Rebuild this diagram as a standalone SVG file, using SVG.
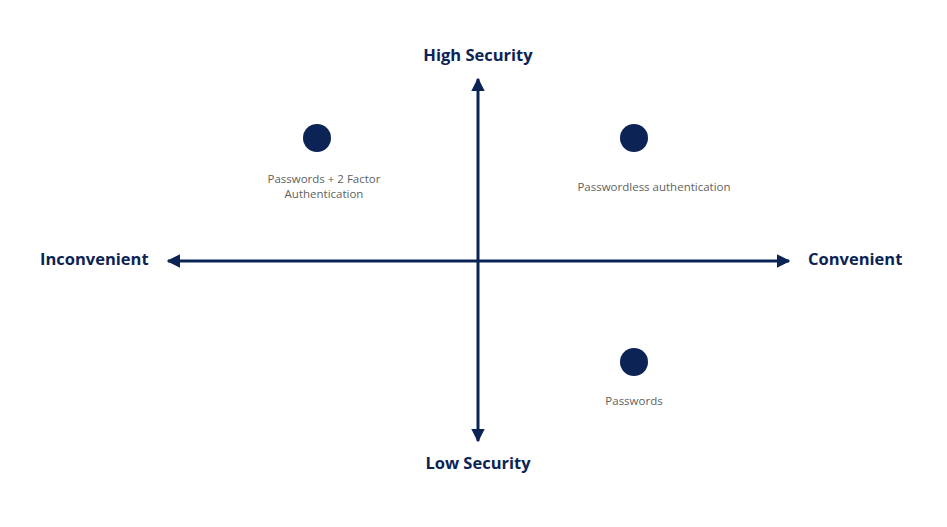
<svg xmlns="http://www.w3.org/2000/svg" width="947" height="527" viewBox="0 0 947 527">
  <style>
    .axis { stroke: #0c2355; stroke-width: 3; fill: none; }
    .axis-label { font-family: "Open Sans", "Noto Sans", sans-serif; font-weight: 700; font-size: 16.5px; fill: #0c2355; }
    .point { fill: #0c2355; }
    .point-label { font-family: "Open Sans", "Noto Sans", sans-serif; font-size: 11.5px; fill: #5f5f5f; text-anchor: middle; }
  </style>
  <defs>
    <marker id="arrow" viewBox="0 0 10 10" refX="9" refY="5" markerWidth="4.5" markerHeight="4.5" orient="auto-start-reverse" markerUnits="strokeWidth">
      <path d="M0,0 L10,5 L0,10 Z" fill="#0c2355"/>
    </marker>
  </defs>
  <rect width="947" height="527" fill="#ffffff"/>

  <g id="connectors">
    <line class="axis" x1="478" y1="441" x2="478" y2="79" marker-end="url(#arrow)" marker-start="url(#arrow)"/>
    <line class="axis" x1="168" y1="261" x2="789" y2="261" marker-end="url(#arrow)" marker-start="url(#arrow)"/>
  </g>

  <g id="high-security">
    <text class="axis-label" x="478" y="61" text-anchor="middle">High Security</text>
  </g>
  <g id="low-security">
    <text class="axis-label" x="478" y="469" text-anchor="middle">Low Security</text>
  </g>
  <g id="inconvenient">
    <text class="axis-label" x="40" y="265">Inconvenient</text>
  </g>
  <g id="convenient">
    <text class="axis-label" x="808" y="265">Convenient</text>
  </g>

  <g id="passwords-2fa">
    <circle class="point" cx="317" cy="138" r="14"/>
    <text class="point-label" x="324" y="183">Passwords + 2 Factor</text>
    <text class="point-label" x="324" y="198">Authentication</text>
  </g>
  <g id="passwordless">
    <circle class="point" cx="634" cy="138" r="14"/>
    <text class="point-label" x="654" y="191">Passwordless authentication</text>
  </g>
  <g id="passwords">
    <circle class="point" cx="634" cy="362" r="14"/>
    <text class="point-label" x="634" y="405">Passwords</text>
  </g>
</svg>
